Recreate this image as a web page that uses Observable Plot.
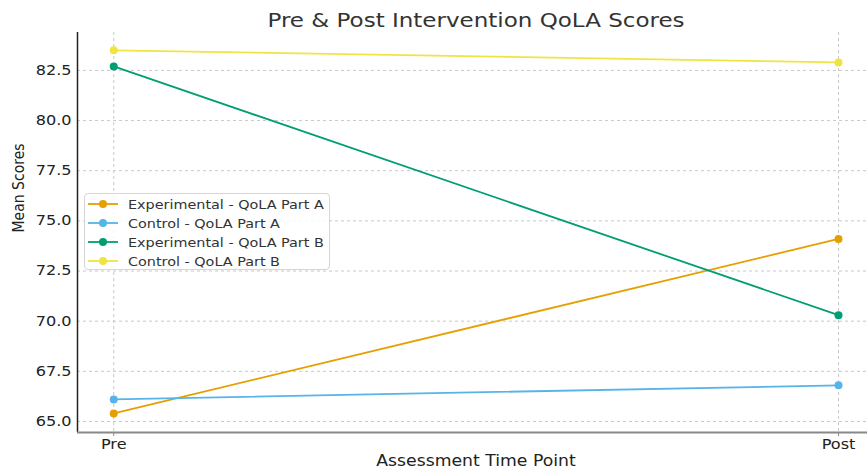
<!DOCTYPE html>
<html><head><meta charset="utf-8">
<script src="https://cdn.jsdelivr.net/npm/d3@7"></script>
<script src="https://cdn.jsdelivr.net/npm/@observablehq/plot@0.6"></script>
<style>
body{margin:0;background:#fff;font-family:"DejaVu Sans",sans-serif}
#wrap{position:relative;width:867px;height:470px;overflow:hidden}
#legend{position:absolute;left:84px;top:193px;width:244px;height:75px;border:1px solid #d6d6d6;border-radius:4px;background:rgba(255,255,255,0.85);box-sizing:content-box}
.row{position:absolute;left:0;height:19px;display:flex;align-items:center;font-size:12.5px;color:#333;white-space:nowrap}
.row svg{margin-left:3px;margin-right:10px}
.row span{display:inline-block;transform:scaleX(1.15);transform-origin:left center}
</style></head><body><div id="wrap"></div>
<script>
const title = "Pre & Post Intervention QoLA Scores";
const xLabel = "Assessment Time Point";
const yLabel = "Mean Scores";
const timePoints = ["Pre", "Post"];
const seriesNames = ["Experimental - QoLA Part A", "Control - QoLA Part A", "Experimental - QoLA Part B", "Control - QoLA Part B"];
const seriesColors = ["#E69F00", "#56B4E9", "#009E73", "#F0E442"];
const expPartA = [65.4, 74.1];
const ctrlPartA = [66.1, 66.8];
const expPartB = [82.7, 70.3];
const ctrlPartB = [83.5, 82.9];
const yTicks = [65.0, 67.5, 70.0, 72.5, 75.0, 77.5, 80.0, 82.5];

const seriesValues = [expPartA, ctrlPartA, expPartB, ctrlPartB];
const rows = [];
seriesNames.forEach((s, k) => seriesValues[k].forEach((v, i) => rows.push({series: s, time: i, value: v})));

const xDomain = [-0.05, 1.04];
const yDomain = [64.45, 84.39];

const chart = Plot.plot({
  width: 867, height: 470,
  marginLeft: 77, marginRight: 0, marginTop: 32, marginBottom: 38,
  style: {fontFamily: "DejaVu Sans, sans-serif", fontSize: "14px", color: "#222", background: "white"},
  x: {type: "linear", domain: xDomain, label: null},
  y: {domain: yDomain, label: null},
  color: {domain: seriesNames, range: seriesColors},
  marks: [
    Plot.gridY(yTicks, {stroke: "#c8c8c8", strokeOpacity: 1, strokeDasharray: "3,3"}),
    Plot.gridX([0, 1], {stroke: "#c8c8c8", strokeOpacity: 1, strokeDasharray: "3,3"}),
    Plot.axisY(yTicks, {tickSize: 0, tickPadding: 6, fontSize: 14, tickFormat: d => d.toFixed(1), label: null}),
    Plot.axisX([0, 1], {tickSize: 4, tickPadding: 3, fontSize: 14, tickFormat: i => timePoints[i], label: null, stroke: "#888"}),
    Plot.ruleX([xDomain[0]], {stroke: "#222", strokeWidth: 1.5}),
    Plot.ruleY([yDomain[0]], {stroke: "#888", strokeWidth: 2}),
    Plot.line(rows, {x: "time", y: "value", z: "series", stroke: "series", strokeWidth: 1.8}),
    Plot.dot(rows, {x: "time", y: "value", fill: "series", r: 4}),
    Plot.text([title], {frameAnchor: "top", dx: 3.5, dy: -20, fontSize: 20, fill: "#333"}),
    Plot.text([yLabel], {frameAnchor: "left", dx: -59, rotate: -90, fontSize: 14, fill: "#222"}),
    Plot.text([xLabel], {frameAnchor: "bottom", dx: 3.5, dy: 33, fontSize: 15, fill: "#222"})
  ]
});
// horizontal stretch of the reference's lettering
chart.querySelectorAll("text").forEach(t => {
  const tr = t.getAttribute("transform") || "";
  const ax = +(t.getAttribute("x") || 0);
  const s = `translate(${ax},0) scale(1.15,1) translate(${-ax},0)`;
  if (/rotate\(/.test(tr)) t.setAttribute("transform", tr.replace(/rotate\(/, s + " rotate("));
  else t.setAttribute("transform", (tr + " " + s).trim());
});
const wrap = document.getElementById("wrap");
wrap.appendChild(chart);

const legend = document.createElement("div");
legend.id = "legend";
seriesNames.forEach((s, k) => {
  const r = document.createElement("div");
  r.className = "row";
  r.style.top = (k * 19 + 0.5) + "px";
  r.innerHTML = `<svg width="30" height="10"><line x1="0" x2="30" y1="5" y2="5" stroke="${seriesColors[k]}" stroke-width="1.8"/><circle cx="15" cy="5" r="4" fill="${seriesColors[k]}"/></svg><span>${s}</span>`;
  legend.appendChild(r);
});
wrap.appendChild(legend);
</script>
</body></html>
